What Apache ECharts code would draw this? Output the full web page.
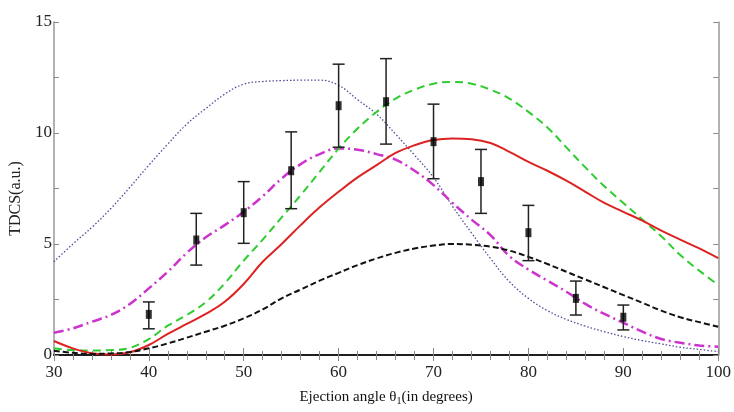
<!DOCTYPE html>
<html>
<head>
<meta charset="utf-8">
<script src="https://cdn.jsdelivr.net/npm/echarts@6/dist/echarts.min.js"></script>
<style>
  html, body { margin: 0; padding: 0; background: #fff; }
  #chart { width: 734px; height: 412px; }
</style>
</head>
<body>
<div id="chart"></div>
<script>
// Theory curves, sampled every 2 degrees
const angles = [30, 32, 34, 36, 38, 40, 42, 44, 46, 48, 50, 52, 54, 56, 58, 60, 62, 64,
  66, 68, 70, 72, 74, 76, 78, 80, 82, 84, 86, 88, 90, 92, 94, 96, 98, 100]

const solidRed = [0.63, 0.3, 0.08, 0.02, 0.12, 0.45, 0.95, 1.4, 1.85, 2.4, 3.2, 4.2, 5.0, 5.85, 6.65, 7.35, 8.0, 8.55,
  9.1, 9.45, 9.68, 9.75, 9.72, 9.55, 9.15, 8.7, 8.3, 7.85, 7.35, 6.85, 6.45, 6.05, 5.6, 5.2, 4.8, 4.36]
const dashedGreen = [0.3, 0.22, 0.2, 0.22, 0.32, 0.72, 1.32, 1.8, 2.38, 3.23, 4.25, 5.2, 6.2, 7.2, 8.25, 9.3, 10.2, 10.95,
  11.55, 11.95, 12.22, 12.3, 12.22, 11.95, 11.55, 10.95, 10.25, 9.35, 8.45, 7.6, 6.85, 6.1, 5.35, 4.5, 3.8, 3.15]
const dashedBlack = [0.19, 0.1, 0.05, 0.07, 0.13, 0.3, 0.52, 0.78, 1.05, 1.32, 1.65, 2.05, 2.55, 2.95, 3.35, 3.7, 4.05, 4.35,
  4.6, 4.8, 4.93, 5.0, 4.97, 4.88, 4.7, 4.42, 4.1, 3.75, 3.4, 3.05, 2.7, 2.35, 2.0, 1.7, 1.48, 1.27]
const dashDotMagenta = [1.0, 1.2, 1.5, 1.8, 2.3, 3.0, 3.75, 4.6, 5.3, 5.85, 6.45, 7.15, 7.95, 8.6, 9.05, 9.3, 9.25, 9.05,
  8.8, 8.3, 7.65, 6.85, 6.1, 5.4, 4.45, 3.85, 3.35, 2.85, 2.3, 1.85, 1.45, 1.05, 0.72, 0.55, 0.43, 0.37]
const dottedBlue = [4.2, 5.0, 5.75, 6.6, 7.55, 8.55, 9.5, 10.4, 11.1, 11.75, 12.2, 12.32, 12.36, 12.38, 12.38, 12.15, 11.5, 10.85,
  9.95, 9.0, 8.0, 6.7, 5.5, 4.35, 3.3, 2.55, 2.0, 1.6, 1.3, 1.05, 0.83, 0.65, 0.5, 0.35, 0.25, 0.15]

// Experimental points with error bars
const expAngles = [40, 45, 50, 55, 60, 65, 70, 75, 80, 85, 90]
const expValues = [1.83, 5.18, 6.41, 8.3, 11.23, 11.41, 9.61, 7.81, 5.51, 2.55, 1.7]
const expLow = [1.18, 4.05, 5.03, 6.59, 9.36, 9.5, 7.94, 6.38, 4.25, 1.8, 1.13]
const expHigh = [2.39, 6.38, 7.81, 10.05, 13.1, 13.35, 11.3, 9.26, 6.74, 3.33, 2.25]

const pairs = (ys) => angles.map((a, i) => [a, ys[i]])

const chart = echarts.init(document.getElementById('chart'))

const serifFont = 'Liberation Serif'

const curve = (data, color, width, type) => ({
  type: 'line',
  data: pairs(data),
  smooth: 0.4,
  symbol: 'none',
  lineStyle: { color: color, width: width, type: type },
  z: 2
})

const option = {
  animation: false,
  grid: { left: 47, right: 13, top: 22, bottom: 57 },
  xAxis: [
    {
      type: 'value',
      min: 30,
      max: 100,
      interval: 10,
      name: 'Ejection angle θ{s|1}(in degrees)',
      nameLocation: 'middle',
      nameGap: 33,
      nameTextStyle: {
        fontFamily: serifFont,
        fontSize: 15,
        color: '#111',
        rich: { s: { fontFamily: serifFont, fontSize: 10, verticalAlign: 'bottom', padding: [8, 0, 0, 0], color: '#111' } }
      },
      axisLine: { lineStyle: { color: '#111', width: 1.5 } },
      axisTick: { inside: true, length: 7, lineStyle: { color: '#888' } },
      minorTick: { show: true, splitNumber: 5, length: 4, lineStyle: { color: '#888' } },
      axisLabel: { fontFamily: serifFont, fontSize: 17, color: '#222', margin: 9 },
      splitLine: { show: false }
    },
    {
      type: 'value',
      position: 'top',
      min: 30,
      max: 100,
      interval: 10,
      axisLine: { show: true, lineStyle: { color: '#111', width: 1.5 } },
      axisTick: { inside: true, length: 6, lineStyle: { color: '#888' } },
      minorTick: { show: true, splitNumber: 5, length: 5, lineStyle: { color: '#888' } },
      axisLabel: { show: false },
      splitLine: { show: false }
    }
  ],
  yAxis: [
    {
      type: 'value',
      min: 0,
      max: 15,
      interval: 5,
      name: 'TDCS(a.u.)',
      nameLocation: 'middle',
      nameGap: 27,
      nameTextStyle: { fontFamily: serifFont, fontSize: 16, color: '#222', padding: [0, 20, 0, 0] },
      axisLine: { show: true, lineStyle: { color: '#999', width: 1.5 } },
      axisTick: { inside: true, length: 5, lineStyle: { color: '#888' } },
      minorTick: { show: true, splitNumber: 2, length: 5, lineStyle: { color: '#888' } },
      axisLabel: { fontFamily: serifFont, fontSize: 17, color: '#222', margin: 2 },
      splitLine: { show: false }
    },
    {
      type: 'value',
      position: 'right',
      min: 0,
      max: 15,
      interval: 5,
      axisLine: { show: true, lineStyle: { color: '#999', width: 1.5 } },
      axisTick: { inside: true, length: 5, lineStyle: { color: '#888' } },
      minorTick: { show: true, splitNumber: 2, length: 5, lineStyle: { color: '#888' } },
      axisLabel: { show: false },
      splitLine: { show: false }
    }
  ],
  series: [
    curve(dottedBlue, '#4d4d9c', 1.3, [1.5, 2]),
    curve(dashDotMagenta, '#cc33cc', 2.5, [10, 4, 2, 4]),
    curve(dashedGreen, '#2ecc2e', 2, [8, 5]),
    curve(solidRed, '#dd2222', 2, 'solid'),
    curve(dashedBlack, '#111111', 2, [6, 3]),
    {
      type: 'custom',
      data: expAngles.map((a, i) => [a, expLow[i], expHigh[i]]),
      renderItem: (params, api) => {
        const lo = api.coord([api.value(0), api.value(1)])
        const hi = api.coord([api.value(0), api.value(2)])
        const cap = 6
        const style = { stroke: '#222', lineWidth: 1.5 }
        return {
          type: 'group',
          children: [
            { type: 'line', shape: { x1: lo[0], y1: lo[1], x2: hi[0], y2: hi[1] }, style: style },
            { type: 'line', shape: { x1: lo[0] - cap, y1: lo[1], x2: lo[0] + cap, y2: lo[1] }, style: style },
            { type: 'line', shape: { x1: hi[0] - cap, y1: hi[1], x2: hi[0] + cap, y2: hi[1] }, style: style }
          ]
        }
      },
      z: 3
    },
    {
      type: 'scatter',
      data: expAngles.map((a, i) => [a, expValues[i]]),
      symbol: 'rect',
      symbolSize: [6, 9],
      itemStyle: { color: '#000' },
      z: 4
    }
  ]
}

chart.setOption(option)
</script>
</body>
</html>
